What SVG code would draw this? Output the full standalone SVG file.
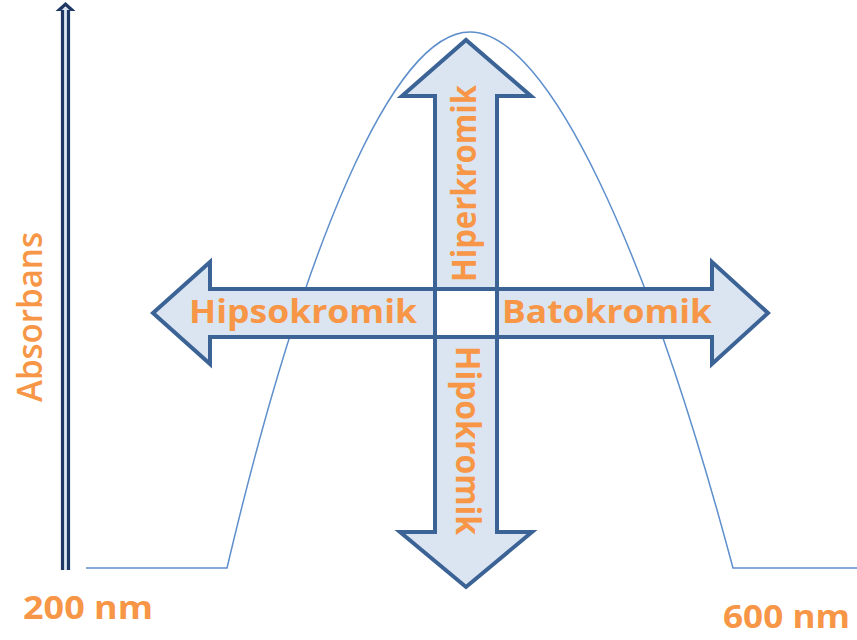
<svg xmlns="http://www.w3.org/2000/svg" width="857" height="640" viewBox="0 0 857 640">
<style>
.arrow{fill:#dbe5f1;stroke:#3b6396;stroke-width:4;stroke-linejoin:miter}
.lbl{font-family:"Open Sans","Liberation Sans",sans-serif;font-weight:bold;fill:#f79646}
.curve{fill:none;stroke:#5e8fcc;stroke-width:1.5}
.axis{fill:none;stroke:#1f3864;stroke-width:3.2}
</style>
<rect width="857" height="640" fill="#ffffff"/>
<g id="curve">
<path class="curve" d="M86,568 L227,568 C302,250 392,32 470,32 C548,32 648,250 733,568 L857,568"/>
</g>
<g id="y-axis">
<rect x="61" y="8" width="9" height="562" fill="#dbe5f1"/>
<line class="axis" x1="62.5" y1="10" x2="62.5" y2="570"/>
<line class="axis" x1="68.5" y1="10" x2="68.5" y2="570"/>
<path d="M55.5,11 L65.5,2 L75.5,11 L70.5,11 L65.5,6.5 L60.5,11 Z" fill="#1f3864"/>
<text class="lbl" style="font-weight:600" transform="translate(42,402) rotate(-90)" font-size="34" textLength="170" lengthAdjust="spacingAndGlyphs">Absorbans</text>
</g>
<g id="hiperkromik">
<path class="arrow" d="M435,290 L435,96 L402,96 L466,40 L531,96 L497,96 L497,290 Z"/>
<text class="lbl" transform="translate(476,282) rotate(-90)" font-size="34" textLength="197" lengthAdjust="spacingAndGlyphs">Hiperkromik</text>
</g>
<g id="hipokromik">
<path class="arrow" d="M435,337 L435,532 L400,532 L466,587 L532,532 L497,532 L497,337 Z"/>
<text class="lbl" transform="translate(456,346) rotate(90)" font-size="34" textLength="189" lengthAdjust="spacingAndGlyphs">Hipokromik</text>
</g>
<g id="hipsokromik">
<path class="arrow" d="M435,289 L210,289 L210,262 L153,313 L210,364 L210,337 L435,337 Z"/>
<text class="lbl" x="189" y="323" font-size="33" textLength="228" lengthAdjust="spacingAndGlyphs">Hipsokromik</text>
</g>
<g id="batokromik">
<path class="arrow" d="M497,289 L712,289 L712,262 L768,313 L712,364 L712,337 L497,337 Z"/>
<text class="lbl" x="502" y="323" font-size="33" textLength="210" lengthAdjust="spacingAndGlyphs">Batokromik</text>
</g>
<g id="center">
<rect x="435" y="289" width="62" height="48" fill="#ffffff" stroke="#3b6396" stroke-width="4"/>
</g>
<g id="labels">
<text class="lbl" x="23" y="619" font-size="33" textLength="130" lengthAdjust="spacingAndGlyphs">200 nm</text>
<text class="lbl" x="723" y="628" font-size="33" textLength="127" lengthAdjust="spacingAndGlyphs">600 nm</text>
</g>
</svg>
